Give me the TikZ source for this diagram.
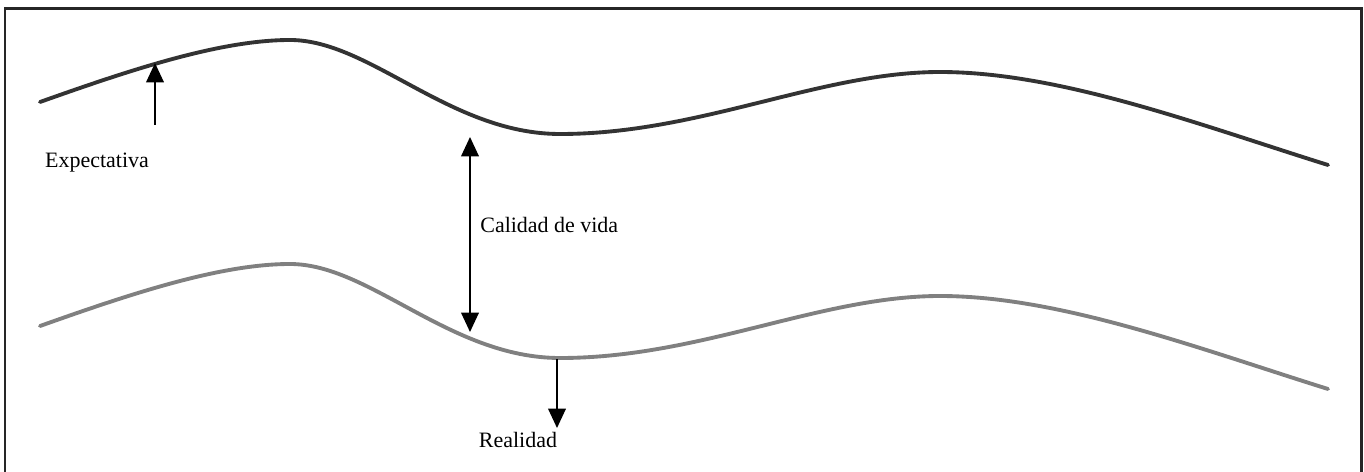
\documentclass[tikz,border=0pt]{standalone}
\usepackage{fontspec}
\setmainfont{Liberation Serif}
\usetikzlibrary{arrows.meta,positioning}

\begin{document}
\begin{tikzpicture}[
				x = 0.02cm, y = -0.02cm,
				every node/.style = {font = \fontsize{12.5}{15}\selectfont, inner sep = 0pt},
				marco/.style = {line width = 1.7pt, color = black!85},
				curva/.style = {line width = 2.2pt, line cap = round},
				flecha/.style = {line width = 1pt, -{Triangle[width = 10pt, length = 11pt]}},
				dobleflecha/.style = {line width = 1pt, {Triangle[width = 10pt, length = 11pt]}-{Triangle[width = 10pt, length = 11pt]}}
				]
				\useasboundingbox (0,0) rectangle (1364,472);
				\draw [marco] (5,472) -- (5,9) -- (1361,9) -- (1361,472);
				
				% expectativa (arriba) y realidad (abajo)
				\draw [curva, black!80] (40,102) .. controls (130,70) and (220,40) .. (290,40)
					.. controls (370,40) and (450,134) .. (560,134)
					.. controls (700,134) and (820,72) .. (940,72)
					.. controls (1060,72) and (1200,125) .. (1328,165);
				\draw [curva, black!50, yshift = -224*0.02cm] (40,102) .. controls (130,70) and (220,40) .. (290,40)
					.. controls (370,40) and (450,134) .. (560,134)
					.. controls (700,134) and (820,72) .. (940,72)
					.. controls (1060,72) and (1200,125) .. (1328,165);
				
				\coordinate (exptip) at (155,63);
				\coordinate (expbase) at (155,125);
				\coordinate (caltop) at (470,137);
				\coordinate (calbot) at (470,332);
				\coordinate (realbase) at (557,359);
				\coordinate (realtip) at (557,428);
				
				\node (expectativa) at (97,163) {Expectativa};
				\node [anchor = west] (calidad) at (480,225) {Calidad de vida};
				\node (realidad) at (518,440) {Realidad};
				
				\draw [flecha] (expbase) -- (exptip);
				\draw [dobleflecha] (caltop) -- (calbot);
				\draw [flecha] (realbase) -- (realtip);
			\end{tikzpicture}
\end{document}
